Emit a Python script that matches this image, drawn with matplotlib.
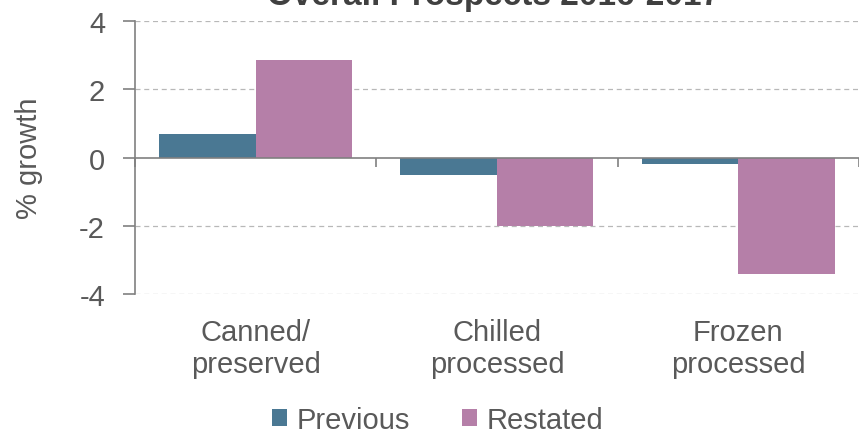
import matplotlib.pyplot as plt
import numpy as np

plt.rcParams['font.family'] = ['Liberation Sans', 'DejaVu Sans']

categories = ["Canned/\npreserved", "Chilled\nprocessed", "Frozen\nprocessed"]
previous = [0.7, -0.5, -0.2]
restated = [2.85, -2.0, -3.42]
yticks = [-4, -2, 0, 2, 4]
title = "Overall Prospects 2016-2017"

col_prev = "#4A7893"
col_rest = "#B57FA8"
grey = "#595959"
fs = 21

fig = plt.figure(figsize=(8.59, 4.35), dpi=100)
ax = fig.add_axes([0.157, 0.322, 0.843, 0.627])

x = np.arange(len(categories))
w = 0.4
ax.bar(x - w / 2, previous, w, color=col_prev, label="Previous")
ax.bar(x + w / 2, restated, w, color=col_rest, label="Restated")

ax.set_xlim(-0.5, len(categories) - 0.5)
ax.set_ylim(-4, 4)
ax.set_yticks(yticks)
ax.set_yticklabels([str(t) for t in yticks])
for t in yticks:
    if t != 0:
        ax.axhline(t, color="#b8b8b8", linestyle=(0, (4, 3)), linewidth=0.9, zorder=0)

# axis styling
for s in ["top", "right"]:
    ax.spines[s].set_visible(False)
ax.spines["left"].set_color("#808080")
ax.spines["left"].set_linewidth(1.2)
ax.spines["bottom"].set_position(("data", 0))
ax.spines["bottom"].set_color("#808080")
ax.spines["bottom"].set_linewidth(1.2)
ax.spines["bottom"].set_zorder(3)

ax.set_xticks(np.arange(len(categories) + 1) - 0.5)
ax.set_xticklabels([])
ax.tick_params(axis="x", direction="out", length=6.5, width=1.2, color="#808080")
ax.tick_params(axis="y", direction="out", length=8.5, width=1.2, color="#808080",
               labelsize=fs, labelcolor=grey, pad=13)

sec = ax.secondary_xaxis(0)
sec.set_xticks(x)
sec.set_xticklabels(categories, fontsize=fs, color=grey, linespacing=1.2)
sec.tick_params(length=0, pad=17)
sec.spines["bottom"].set_visible(False)

ax.set_ylabel("% growth", fontsize=fs, color=grey, labelpad=26)

fig.text(0.5745, 0.988, title, fontsize=24, fontweight="bold", color="#404040",
         ha="center", va="baseline")

fig.legend(loc="lower left", bbox_to_anchor=(0.3166, 0.0), ncol=2, frameon=False,
           fontsize=fs, handlelength=0.5, handleheight=0.5, handletextpad=0.33,
           columnspacing=1.8, labelcolor=grey, borderpad=0, borderaxespad=0)

fig.savefig("out.png", dpi=100)
